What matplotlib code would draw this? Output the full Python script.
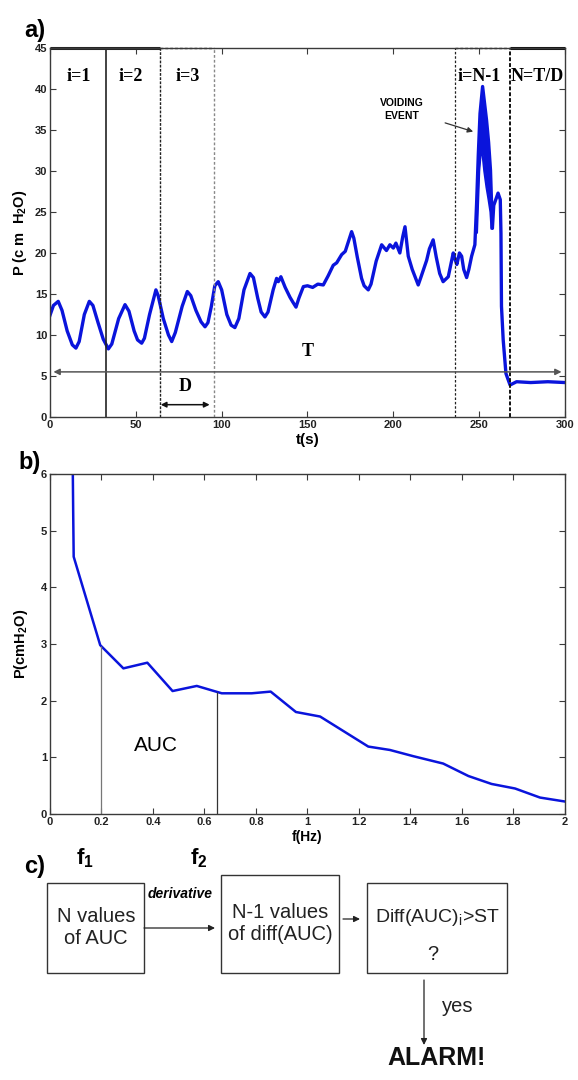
import matplotlib
matplotlib.use("Agg")
import matplotlib.pyplot as plt
from matplotlib.patches import Rectangle
import numpy as np

plt.rcParams['font.family'] = ['Liberation Sans', 'DejaVu Sans']
plt.rcParams['mathtext.fontset'] = 'custom'
plt.rcParams['mathtext.rm'] = 'Liberation Sans'
plt.rcParams['mathtext.bf'] = 'Liberation Sans:bold'

# ---- panel a: bladder pressure trace (knots)
t_sec = [0, 2, 4.8, 7, 10, 13, 15.1, 17, 20, 22.9, 25, 28, 31, 34, 36, 40, 43.7,
         46, 49, 51, 53.4, 55, 58, 61.7, 63, 66, 69, 70.9, 73, 77, 80, 82, 85, 88,
         90.3, 92, 94, 96, 98, 100, 103, 105.5, 107.7, 110, 113, 116.5, 118.5, 121,
         123, 125.2, 127, 130, 132, 133, 134.5, 137, 139.8, 141.5, 143.3, 145, 147.6,
         150, 153, 156, 159.2, 162, 165, 167, 169.9, 172, 174, 175.7, 177, 179, 181.5,
         183, 185.4, 187, 190, 193.2, 196, 198, 200, 201.5, 203.8, 205.5, 206.8, 208.7,
         211, 214.5, 216, 219.4, 221, 223.2, 225, 227, 229, 232, 234.9, 236, 237,
         238.5, 239.8, 241, 242.7, 244, 245.6, 247.5, 248.5, 249.5, 250.5, 252, 254.3,
         255.5, 256.6, 257.2, 257.7, 258.5, 261, 262.3, 262.7, 263, 264, 265.6, 268, 271.8,
         280, 290, 300]
p_cmh2o = [12.4, 13.6, 14.1, 13.0, 10.5, 8.8, 8.4, 9.2, 12.5, 14.1, 13.6, 11.5, 9.5, 8.3, 8.9, 12.0, 13.7,
           12.9, 10.5, 9.4, 9.0, 9.6, 12.5, 15.5, 14.8, 12.0, 10.0, 9.2, 10.3, 13.5, 15.3, 14.8, 13.0, 11.6,
           11.0, 11.5, 13.5, 16.0, 16.5, 15.5, 12.5, 11.2, 10.9, 12.0, 15.5, 17.5, 17.0, 14.5,
           12.8, 12.2, 12.8, 15.5, 16.9, 16.5, 17.1, 15.8, 14.6, 14.0, 13.4, 14.5, 15.9,
           16.0, 15.8, 16.2, 16.1, 17.2, 18.5, 18.8, 19.8, 20.2, 21.5, 22.6, 21.8, 19.5, 16.9,
           16.0, 15.5, 16.2, 19.0, 21.0, 20.3, 21.0, 20.6, 21.2, 20.0, 22.0, 23.2, 19.6,
           18.0, 16.1, 17.0, 19.1, 20.5, 21.6, 19.5, 17.5, 16.5, 17.1, 20.0, 19.2, 18.6,
           20.0, 19.6, 18.0, 17.0, 18.0, 19.6, 21.0, 26.0, 32.0, 37.0, 40.3, 36.2,
           33.5, 30.1, 26.1, 23.0, 25.8, 27.3, 26.5, 22.4, 13.5, 9.4, 5.3, 3.9, 4.3,
           4.2, 4.3, 4.2]

# voiding burst: outer and inner envelope of the thick band
t_void = [248.7, 250, 251, 252, 253, 254.3, 255.5, 256.6, 257.2]
p_void_hi = [24.0, 34.0, 38.7, 40.3, 38.5, 36.2, 33.5, 30.1, 26.1]
p_void_lo = [22.5, 30.0, 32.5, 32.0, 30.0, 28.0, 26.5, 25.0, 23.0]

win_edges = [0, 32.4, 64, 95.5, 236, 268, 300]
win_labels = ['i=1', 'i=2', 'i=3', 'i=N-1', 'N=T/D']
win_label_t = [17, 47, 80, 250, 284]

# ---- panel b: spectrum
f_hz = [0.088, 0.09, 0.092, 0.195, 0.285, 0.378, 0.476, 0.57, 0.667, 0.783, 0.857,
        0.955, 1.049, 1.236, 1.32, 1.411, 1.527, 1.625, 1.715, 1.806, 1.903, 2.0]
psd = [6.3, 5.35, 4.54, 2.98, 2.57, 2.67, 2.17, 2.26, 2.13, 2.13, 2.16,
       1.80, 1.72, 1.19, 1.13, 1.02, 0.89, 0.67, 0.53, 0.45, 0.29, 0.22]
f_band = [0.2, 0.65]

BLUE = '#0a14dc'
SPINE = '#3a3a3a'

fig = plt.figure(figsize=(5.78, 10.8), dpi=100)


def style_axes(ax):
    for s in ax.spines.values():
        s.set_color(SPINE)
        s.set_linewidth(1.0)
    ax.tick_params(direction='in', top=True, right=True, length=4, width=0.8,
                   color=SPINE, labelsize=8, pad=2)
    for lab in ax.get_xticklabels() + ax.get_yticklabels():
        lab.set_fontweight('bold')
        lab.set_color('#222222')


# ================= a)
ax = fig.add_axes([0.0865, 0.6139, 0.891, 0.3417])
ax.plot(t_sec, p_cmh2o, color=BLUE, lw=2.4, solid_joinstyle='round')
ax.fill_between(t_void, p_void_lo, p_void_hi, color=BLUE, lw=0)
ax.plot(t_void, p_void_lo, color=BLUE, lw=1.6)
ax.set_xlim(0, 300)
ax.set_ylim(0, 45)
ax.set_xticks(range(0, 301, 50))
ax.set_yticks(range(0, 46, 5))
style_axes(ax)

# analysis windows
ax.axvline(win_edges[1], color='#222222', lw=1.2)
ax.axvline(win_edges[2], color='#222222', lw=1.0, ls=(0, (2, 1)))
ax.axvline(win_edges[3], color='#888888', lw=1.0, ls=(0, (2, 1.5)))
ax.axvline(win_edges[4], color='#222222', lw=0.9, ls=(0, (2, 1.5)))
ax.axvline(win_edges[5], color='#111111', lw=1.4, ls=(0, (2, 1)))
ax.hlines(45, win_edges[0], win_edges[2], color='#222222', lw=2.2, clip_on=False)
ax.hlines(45, win_edges[2], win_edges[3], color='#222222', lw=1.0, ls=(0, (2, 1.5)), clip_on=False)
ax.hlines(45, win_edges[4], win_edges[5], color='#222222', lw=1.0, ls=(0, (2, 1.5)), clip_on=False)
ax.hlines(45, win_edges[5], win_edges[6], color='#111111', lw=2.2, clip_on=False)
for lab, tl in zip(win_labels, win_label_t):
    ax.text(tl, 41.5, lab, ha='center', va='center', family='Liberation Serif',
            fontweight='bold', fontsize=13)

# T and D spans
ax.annotate('', xy=(2, 5.5), xytext=(298, 5.5),
            arrowprops=dict(arrowstyle='<|-|>', color='#555555', lw=1.1, mutation_scale=9,
                            shrinkA=0, shrinkB=0))
ax.text(150, 8.0, 'T', ha='center', va='center', family='Liberation Serif',
        fontweight='bold', fontsize=13)
ax.annotate('', xy=(win_edges[2] + 0.5, 1.5), xytext=(win_edges[3] - 2.5, 1.5),
            arrowprops=dict(arrowstyle='<|-|>', color='#111111', lw=1.1, mutation_scale=8,
                            shrinkA=0, shrinkB=0))
ax.text(79, 3.7, 'D', ha='center', va='center', family='Liberation Serif',
        fontweight='bold', fontsize=13)
ax.annotate('VOIDING\nEVENT', xy=(246.5, 34.8), xytext=(205, 37.5), ha='center', va='center',
            fontsize=7.5, fontweight='bold', linespacing=1.3,
            arrowprops=dict(arrowstyle='-|>', color='#333333', lw=0.9, mutation_scale=8,
                            shrinkA=14, shrinkB=0))
ax.set_ylabel(r'P (c m  H$_\mathbf{2}$O)', fontsize=10.5, fontweight='bold', labelpad=4)
ax.set_xlabel('t(s)', fontsize=11, fontweight='bold', labelpad=2)

# ================= b)
bx = fig.add_axes([0.0865, 0.2463, 0.891, 0.3148])
bx.plot(f_hz, psd, color=BLUE, lw=1.8)
for fb, col in zip(f_band, ['#777777', '#333333']):
    bx.vlines(fb, 0, np.interp(fb, f_hz, psd), color=col, lw=0.9)
bx.text(0.41, 1.2, 'AUC', ha='center', va='center', fontsize=15)
bx.set_xlim(0, 2)
bx.set_ylim(0, 6)
bx.set_xticks(np.arange(0, 2.01, 0.2))
bx.set_xticklabels(['0', '0.2', '0.4', '0.6', '0.8', '1', '1.2', '1.4', '1.6', '1.8', '2'])
bx.set_yticks(range(0, 7))
style_axes(bx)
bx.set_ylabel(r'P(cmH$_\mathbf{2}$O)', fontsize=10.5, fontweight='bold', labelpad=8)
bx.set_xlabel('f(Hz)', fontsize=10, fontweight='bold', labelpad=2)
bx.text(0.136, -0.13, r'f$_\mathbf{1}$', transform=bx.get_xaxis_transform(), ha='center',
        va='center', fontsize=16, fontweight='bold')
bx.text(0.579, -0.13, r'f$_\mathbf{2}$', transform=bx.get_xaxis_transform(), ha='center',
        va='center', fontsize=16, fontweight='bold')

# ================= c) flow chart (pixel coordinates of the figure)
cx = fig.add_axes([0, 0, 1, 260 / 1080])
cx.set_xlim(0, 578)
cx.set_ylim(1080, 820)
cx.axis('off')

boxes = [(47, 883, 97, 90), (221, 875, 118, 98), (367, 883, 140, 90)]
for x0, y0, w, h in boxes:
    cx.add_patch(Rectangle((x0, y0), w, h, fill=False, ec='#333333', lw=1.0))
bfont = dict(fontsize=14.5, color='#222222')
cx.text(96, 928, 'N values\nof AUC', ha='center', va='center', linespacing=1.2, **bfont)
cx.text(280, 923, 'N-1 values\nof diff(AUC)', ha='center', va='center', linespacing=1.2, **bfont)
cx.text(437, 917, r'Diff(AUC)$_\mathrm{i}$>ST', ha='center', va='center', fontsize=14,
        color='#222222')
cx.text(433, 955, '?', ha='center', va='center', **bfont)
cx.text(180, 894, 'derivative', ha='center', va='center', fontsize=10, fontweight='bold',
        style='italic')
arrow = dict(arrowstyle='-|>', color='#222222', lw=0.9, mutation_scale=9, shrinkA=0, shrinkB=0)
cx.annotate('', xy=(215, 928), xytext=(144, 928), arrowprops=arrow)
cx.annotate('', xy=(360, 919), xytext=(343, 919), arrowprops=arrow)
cx.annotate('', xy=(424, 1045), xytext=(424, 980), arrowprops=arrow)
cx.text(458, 1007, 'yes', ha='center', va='center', **bfont)
cx.text(437, 1058, 'ALARM!', ha='center', va='center', fontsize=18, fontweight='bold',
        color='#111111')

# panel letters
for lab, xx, yy in [('a)', 35, 30), ('b)', 30, 463), ('c)', 35, 866)]:
    fig.text(xx / 578, 1 - yy / 1080, lab, ha='center', va='center', fontsize=17,
             fontweight='bold')

fig.savefig('out.png', dpi=100)
